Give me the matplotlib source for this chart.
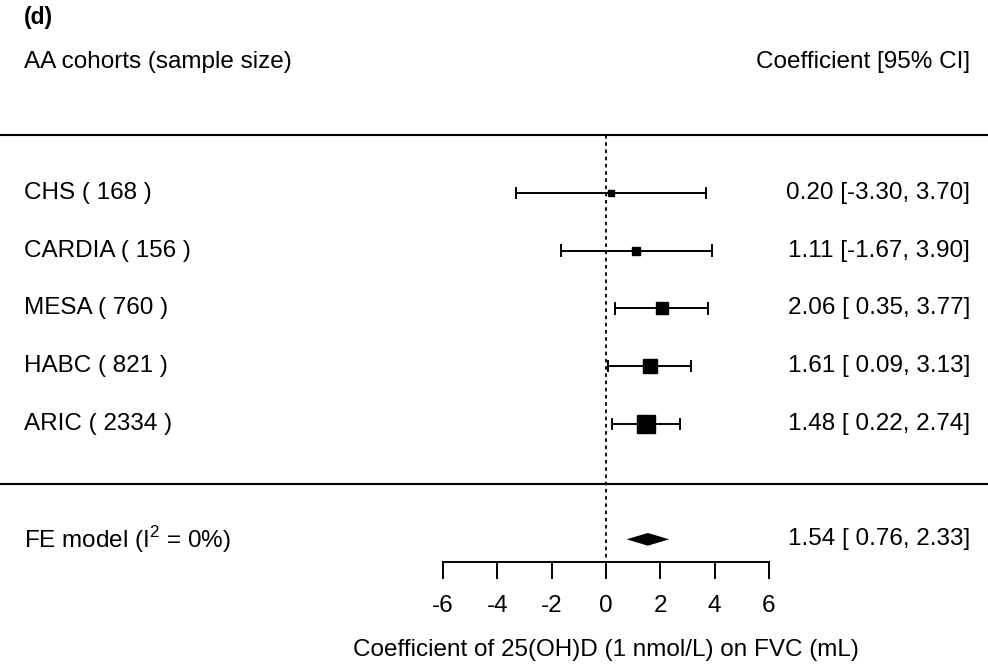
import numpy as np
import matplotlib
matplotlib.use("Agg")
import matplotlib.pyplot as plt

# cohort data
cohorts = ["CHS", "CARDIA", "MESA", "HABC", "ARIC"]
sizes = [168, 156, 760, 821, 2334]
est = [0.20, 1.11, 2.06, 1.61, 1.48]
lo = [-3.30, -1.67, 0.35, 0.09, 0.22]
hi = [3.70, 3.90, 3.77, 3.13, 2.74]

# pooled fixed-effect result
fe_est, fe_lo, fe_hi = 1.54, 0.76, 2.33
fe_label = "FE model (I$^2$ = 0%)"

ticks = [-6, -4, -2, 0, 2, 4, 6]

plt.rcParams['font.family'] = ['Liberation Sans', 'DejaVu Sans']
plt.rcParams['mathtext.fontset'] = 'custom'
plt.rcParams['mathtext.rm'] = 'Liberation Sans'

fig = plt.figure(figsize=(9.88, 6.71), dpi=100)
ax = fig.add_axes([0, 0, 1, 1])
ax.set_xlim(-22.30, 14.06)
ax.set_ylim(-3.28, 8.34)
ax.axis('off')

fs = 17.5
xl = -21.42   # left text column
xr = 13.40    # right text column
rows = np.arange(len(cohorts), 0, -1)

# weights -> square sizes (inverse variance)
se = (np.array(hi) - np.array(lo)) / 3.92
w = 1 / se**2
psize = np.sqrt(w) / np.sqrt(w).max() * 12.5

# header
ax.text(xl, 8.34 - 18 / 57.75, "(d)", fontsize=fs - 1, fontweight='bold', va='center')
ax.text(xl, 7.27, "AA cohorts (sample size)", fontsize=fs, va='center')
ax.text(xr, 7.27, "Coefficient [95% CI]", fontsize=fs, va='center', ha='right')

# separator lines
ax.axhline(6.0, color='black', lw=1.5)
ax.axhline(-0.05, color='black', lw=1.5)

# reference line at 0
ax.plot([0, 0], [6.0, -1.39], color='black', lw=1.3, linestyle=(0, (2, 2)))

cap = 0.09
for r, name, n, e, l, h, s in zip(rows, cohorts, sizes, est, lo, hi, psize):
    ax.plot([l, h], [r, r], color='black', lw=1.4)
    ax.plot([l, l], [r - cap, r + cap], color='black', lw=1.4)
    ax.plot([h, h], [r - cap, r + cap], color='black', lw=1.4)
    ax.plot(e, r, marker='s', markersize=s, color='black', mec='black')
    ax.text(xl, r, f"{name} ( {n} )", fontsize=fs, va='center')
    ax.text(xr, r, f"{e:.2f} [{l:5.2f}, {h:.2f}]",
            fontsize=fs, va='center', ha='right')

# pooled diamond
fy = -1
ax.fill([fe_lo, fe_est, fe_hi, fe_est], [fy, fy + 0.11, fy, fy - 0.11],
        color='black', lw=0)
ax.text(xl, fy, fe_label, fontsize=fs, va='center')
ax.text(xr, fy, f"{fe_est:.2f} [{fe_lo:5.2f}, {fe_hi:.2f}]",
        fontsize=fs, va='center', ha='right')

# x axis
ay = -1.39
ax.plot([ticks[0], ticks[-1]], [ay, ay], color='black', lw=1.4)
for t in ticks:
    ax.plot([t, t], [ay, ay - 0.28], color='black', lw=1.4)
    ax.text(t, ay - 0.76, f"{t}", fontsize=fs, ha='center', va='center')
ax.text(0, ay - 1.52, "Coefficient of 25(OH)D (1 nmol/L) on FVC (mL)",
        fontsize=fs, ha='center', va='center')

fig.savefig("out.png", dpi=100)
